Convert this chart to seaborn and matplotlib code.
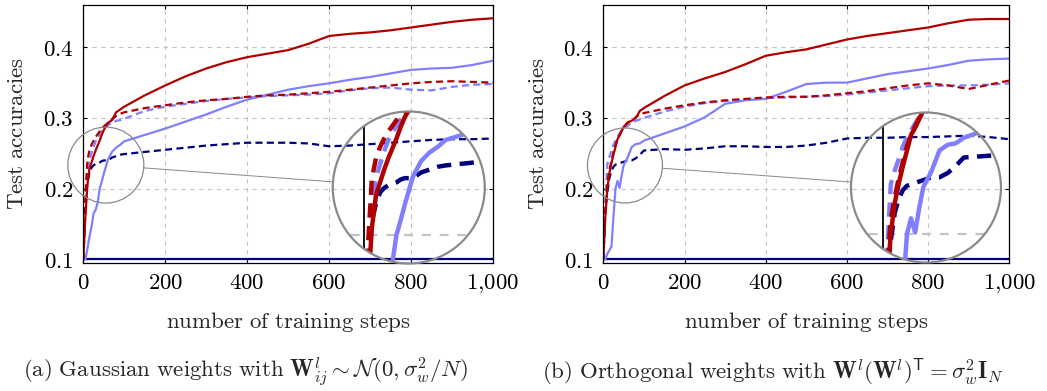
import numpy as np
import pandas as pd
import matplotlib
matplotlib.use("Agg")
import matplotlib.pyplot as plt
import seaborn as sns
from matplotlib.patches import Circle
from matplotlib.lines import Line2D
from matplotlib.transforms import IdentityTransform
from matplotlib.ticker import FixedLocator, FuncFormatter

# ---------------- data ----------------
steps = [0, 5, 10, 15, 20, 25, 30, 35, 40, 45, 50, 60, 70, 80, 90, 100,
         150, 200, 250, 300, 350, 400, 450, 500, 550, 600, 650, 700, 750,
         800, 850, 900, 950, 1000]

# panel (a): Gaussian weights
a_red_solid = [0.10, 0.16, 0.205, 0.228, 0.237, 0.246, 0.254, 0.261, 0.268, 0.276, 0.283,
               0.293, 0.297, 0.308, 0.312, 0.316, 0.332, 0.346, 0.359, 0.370, 0.379, 0.386,
               0.391, 0.396, 0.405, 0.416, 0.419, 0.421, 0.424, 0.428, 0.432, 0.436, 0.439, 0.441]
a_red_dashed = [0.10, 0.19, 0.24, 0.254, 0.262, 0.268, 0.273, 0.277, 0.281, 0.285, 0.288,
                0.293, 0.298, 0.303, 0.306, 0.308, 0.314, 0.318, 0.322, 0.325, 0.327, 0.330,
                0.332, 0.333, 0.335, 0.337, 0.340, 0.343, 0.346, 0.349, 0.351, 0.352, 0.351, 0.350]
a_blue_dashed = [0.10, 0.17, 0.225, 0.240, 0.250, 0.259, 0.267, 0.272, 0.277, 0.281, 0.285,
                 0.290, 0.293, 0.296, 0.297, 0.299, 0.310, 0.316, 0.320, 0.324, 0.327, 0.329,
                 0.331, 0.332, 0.333, 0.335, 0.339, 0.342, 0.343, 0.340, 0.339, 0.344, 0.347, 0.348]
a_blue_solid = [0.10, 0.10, 0.115, 0.132, 0.146, 0.165, 0.170, 0.180, 0.200, 0.210, 0.221,
                0.241, 0.252, 0.258, 0.262, 0.267, 0.276, 0.285, 0.295, 0.305, 0.316, 0.326,
                0.333, 0.340, 0.345, 0.349, 0.354, 0.358, 0.363, 0.368, 0.370, 0.371, 0.375, 0.381]
a_navy_dashed = [0.10, 0.17, 0.21, 0.222, 0.230, 0.233, 0.235, 0.236, 0.237, 0.239, 0.240,
                 0.240, 0.244, 0.246, 0.248, 0.249, 0.252, 0.255, 0.258, 0.261, 0.263, 0.265,
                 0.265, 0.265, 0.264, 0.260, 0.261, 0.263, 0.265, 0.267, 0.269, 0.270, 0.270, 0.271]
a_navy_solid = [0.10] * len(steps)

# panel (b): Orthogonal weights
b_red_solid = [0.10, 0.16, 0.20, 0.222, 0.236, 0.248, 0.259, 0.270, 0.275, 0.281, 0.287,
               0.294, 0.296, 0.300, 0.310, 0.314, 0.331, 0.346, 0.356, 0.365, 0.376, 0.388,
               0.393, 0.397, 0.404, 0.411, 0.416, 0.420, 0.424, 0.428, 0.434, 0.439, 0.440, 0.440]
b_red_dashed = [0.10, 0.17, 0.21, 0.226, 0.240, 0.251, 0.262, 0.270, 0.276, 0.282, 0.287,
                0.293, 0.296, 0.301, 0.305, 0.307, 0.313, 0.318, 0.322, 0.325, 0.327, 0.329,
                0.330, 0.330, 0.332, 0.335, 0.338, 0.342, 0.346, 0.349, 0.346, 0.341, 0.347, 0.353]
b_blue_dashed = [0.10, 0.18, 0.235, 0.245, 0.253, 0.262, 0.268, 0.273, 0.278, 0.282, 0.285,
                 0.289, 0.293, 0.296, 0.298, 0.300, 0.309, 0.316, 0.321, 0.324, 0.326, 0.328,
                 0.329, 0.330, 0.331, 0.333, 0.336, 0.339, 0.342, 0.345, 0.346, 0.346, 0.347, 0.349]
b_blue_solid = [0.10, 0.10, 0.108, 0.113, 0.118, 0.160, 0.200, 0.211, 0.201, 0.218, 0.233,
                0.244, 0.259, 0.263, 0.264, 0.268, 0.278, 0.288, 0.301, 0.320, 0.325, 0.327,
                0.337, 0.348, 0.350, 0.350, 0.356, 0.362, 0.366, 0.370, 0.375, 0.381, 0.383, 0.384]
b_navy_dashed = [0.10, 0.17, 0.195, 0.215, 0.225, 0.231, 0.234, 0.235, 0.236, 0.237, 0.238,
                 0.240, 0.240, 0.243, 0.248, 0.254, 0.256, 0.255, 0.257, 0.260, 0.260, 0.259,
                 0.259, 0.261, 0.265, 0.271, 0.272, 0.272, 0.273, 0.273, 0.274, 0.275, 0.273, 0.270]
b_navy_solid = [0.10] * len(steps)

x_ticks = [0, 200, 400, 600, 800, 1000]
x_tick_labels = ["0", "200", "400", "600", "800", "1{,}000"]
y_ticks = [0.1, 0.2, 0.3, 0.4]
y_tick_labels = ["0.1", "0.2", "0.3", "0.4"]

# ---------------- style ----------------
RED = "#B00000"
LBLUE = "#8080FF"
NAVY = "#000080"
GRID = "#C4C4C4"
CIRC = "#8A8A8A"
LW = 1.6
DASH = (0, (3.2, 1.9))

sns.set_theme(style="white")
plt.rcParams["mathtext.fontset"] = "cm"
plt.rcParams["font.family"] = ["DejaVu Serif"]
FS = 16.5

W_PX, H_PX = 1047, 391
fig = plt.figure(figsize=(W_PX / 100, H_PX / 100), dpi=100)


def cm(s):
    return r"$\mathrm{" + s.replace(" ", r"\ ") + "}$"


def px_rect(left, right, top, bottom):
    return [left / W_PX, 1 - bottom / H_PX, (right - left) / W_PX, (bottom - top) / H_PX]


def series_list(red_s, red_d, blue_d, blue_s, navy_d, navy_s):
    return [
        (navy_s, NAVY, "-"),
        (navy_d, NAVY, DASH),
        (blue_s, LBLUE, "-"),
        (blue_d, LBLUE, DASH),
        (red_d, RED, DASH),
        (red_s, RED, "-"),
    ]


def draw_lines(ax, ser, lw):
    for vals, col, ls in ser:
        df = pd.DataFrame({"step": steps, "acc": vals})
        sns.lineplot(data=df, x="step", y="acc", ax=ax, color=col, linewidth=lw,
                     linestyle=ls, errorbar=None, legend=False)


def make_panel(rect, ser, small_c, small_r, big_c, xlabel_x):
    ax = fig.add_axes(rect)
    draw_lines(ax, ser, LW)
    ax.set_xlim(0, 1000)
    ax.set_ylim(0.0956, 0.4598)
    ax.set_xlabel("")
    ax.set_ylabel("")
    ax.xaxis.set_major_locator(FixedLocator(x_ticks))
    ax.yaxis.set_major_locator(FixedLocator(y_ticks))
    ax.xaxis.set_major_formatter(FuncFormatter(lambda v, p: "$" + x_tick_labels[x_ticks.index(int(round(v)))] + "$"))
    ax.yaxis.set_major_formatter(FuncFormatter(lambda v, p: "$" + y_tick_labels[int(round(v * 10)) - 1] + "$"))
    ax.tick_params(direction="in", length=3, width=0.8, labelsize=FS, top=True, right=True,
                   bottom=True, left=True, colors="black", pad=7)
    ax.grid(True, color=GRID, linestyle=(0, (4, 4)), linewidth=0.8)
    ax.set_axisbelow(True)
    for s in ax.spines.values():
        s.set_color("black")
        s.set_linewidth(0.9)
    ax.set_facecolor("white")

    # ---- magnifier ----
    mag = 2.0
    cs = ax.transData.transform(small_c)
    cb = ax.transData.transform(big_c)
    R = small_r * mag
    iax = fig.add_axes([(cb[0] - R) / W_PX, (cb[1] - R) / H_PX, 2 * R / W_PX, 2 * R / H_PX])
    inv = ax.transData.inverted()
    x0, y0 = inv.transform((cs[0] - small_r, cs[1] - small_r))
    x1, y1 = inv.transform((cs[0] + small_r, cs[1] + small_r))
    iax.set_xlim(x0, x1)
    iax.set_ylim(y0, y1)
    iax.axis("off")
    iax.patch.set_alpha(0)
    iax.axhline(0.2, color=GRID, linestyle=(0, (4, 4)), linewidth=1.6, zorder=0)
    iax.axvline(0.0, color="black", linewidth=1.3, zorder=1)
    draw_lines(iax, ser, LW * mag)
    clip = Circle((0.5, 0.5), 0.5, transform=iax.transAxes)
    for ln in iax.lines:
        ln.set_clip_path(clip)
    iax.add_patch(Circle((0.5, 0.5), 0.5, transform=iax.transAxes, fill=False,
                         edgecolor=CIRC, linewidth=1.6, clip_on=False, zorder=5))
    fig.add_artist(Circle(cs, small_r, transform=IdentityTransform(), fill=False,
                          edgecolor=CIRC, linewidth=0.9, zorder=5))
    d = cb - cs
    u = d / np.hypot(*d)
    p0 = cs + u * small_r
    p1 = cb - u * R
    fig.add_artist(Line2D([p0[0], p1[0]], [p0[1], p1[1]], transform=IdentityTransform(),
                          color=CIRC, linewidth=0.7, zorder=5))

    fig.text(xlabel_x / W_PX, 1 - 322 / H_PX, cm("number of training steps"),
             ha="center", va="center", fontsize=FS)
    return ax


ser_a = series_list(a_red_solid, a_red_dashed, a_blue_dashed, a_blue_solid, a_navy_dashed, a_navy_solid)
ser_b = series_list(b_red_solid, b_red_dashed, b_blue_dashed, b_blue_solid, b_navy_dashed, b_navy_solid)

make_panel(px_rect(83.3, 493, 5, 262.5), ser_a, (55, 0.2334), 38, (794.4, 0.2017), 288)
make_panel(px_rect(603.3, 1009.3, 5, 262.5), ser_b, (53.4, 0.2328), 37.5, (794.8, 0.2017), 806)

for xc in (17.5, 537.5):
    fig.text(xc / W_PX, 1 - 133.75 / H_PX, cm("Test accuracies"), rotation=90,
             ha="center", va="center", fontsize=FS)

fig.text(245 / W_PX, 1 - 372 / H_PX,
         r"$\mathrm{(a)\ Gaussian\ weights\ with\ }\mathbf{W}^{l}_{ij}\sim\mathcal{N}(0,\sigma_w^2/N)$",
         ha="center", va="center", fontsize=FS)
fig.text(773 / W_PX, 1 - 372 / H_PX,
         r"$\mathrm{(b)\ Orthogonal\ weights\ with\ }\mathbf{W}^{l}(\mathbf{W}^{l})^{\mathsf{T}}=\sigma_w^2\mathbf{I}_N$",
         ha="center", va="center", fontsize=FS)

fig.savefig("out.png", dpi=100, facecolor="white")
